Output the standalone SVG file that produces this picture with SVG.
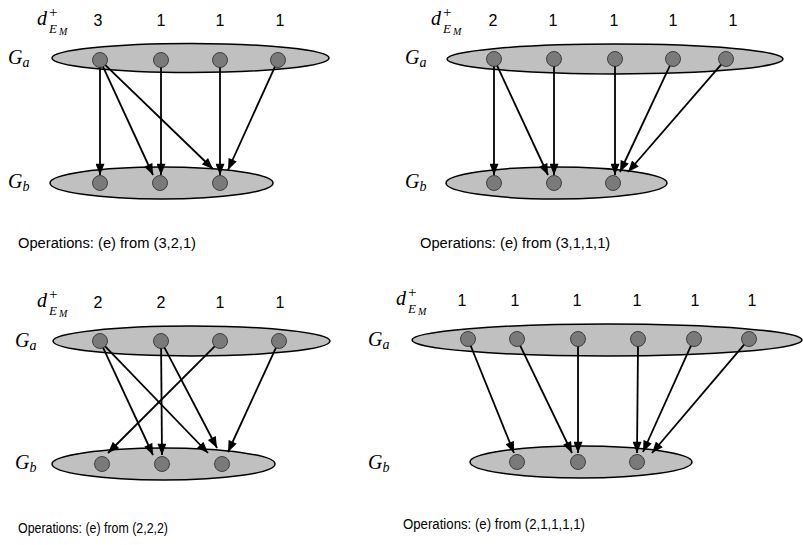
<svg xmlns="http://www.w3.org/2000/svg" width="803" height="545" viewBox="0 0 803 545">
<style>
.set{fill:#c0c0c0;stroke:#000;stroke-width:1.5}
.v{fill:#7a7a7a;stroke:#333;stroke-width:0.9}
.e{stroke:#000;stroke-width:1.8;fill:none;marker-end:url(#ah)}
.num{font-family:"Liberation Sans",Arial,sans-serif;font-size:16px;text-anchor:middle;fill:#000}
.m{font-family:"Liberation Serif","Times New Roman",serif;font-style:italic;fill:#000}
.p{font-family:"Liberation Serif","Times New Roman",serif;fill:#000}
.ops{font-family:"Liberation Sans",Arial,sans-serif;font-size:14.7px;fill:#000}
</style>
<defs>
<marker id="ah" viewBox="0 0 10 8" refX="10" refY="4" markerWidth="12" markerHeight="9" markerUnits="userSpaceOnUse" orient="auto">
<path d="M0,0 L10,4 L0,8 Z" fill="#000"/>
</marker>
</defs>

<!-- Panel 1 -->
<g id="p1-labels">
<text class="m" x="37" y="25" font-size="20">d</text>
<text class="p" x="49" y="17" font-size="15">+</text>
<text class="m" x="49" y="33" font-size="13">E</text>
<text class="m" x="59" y="35" font-size="10">M</text>
<text class="num" x="98" y="26">3</text>
<text class="num" x="161" y="26">1</text>
<text class="num" x="220" y="26">1</text>
<text class="num" x="280" y="26">1</text>
<text class="m" x="8" y="64" font-size="20">G<tspan font-size="14" dy="3">a</tspan></text>
<text class="m" x="8" y="188" font-size="20">G<tspan font-size="14" dy="3">b</tspan></text>
<text class="ops" x="18" y="248">Operations: (e) from (3,2,1)</text>
</g>
<g id="p1-Ga"><ellipse class="set" cx="190.5" cy="58" rx="138.5" ry="14.5"/></g>
<g id="p1-Gb"><ellipse class="set" cx="161.5" cy="183" rx="111.5" ry="16"/></g>
<g id="p1-a1"><circle class="v" cx="100" cy="60" r="7.5"/></g>
<g id="p1-a2"><circle class="v" cx="161" cy="60" r="7.5"/></g>
<g id="p1-a3"><circle class="v" cx="220" cy="60" r="7.5"/></g>
<g id="p1-a4"><circle class="v" cx="278" cy="60" r="7.5"/></g>
<g id="p1-b1"><circle class="v" cx="100" cy="183" r="7.5"/></g>
<g id="p1-b2"><circle class="v" cx="160" cy="183" r="7.5"/></g>
<g id="p1-b3"><circle class="v" cx="220" cy="183" r="7.5"/></g>

<!-- Panel 2 -->
<g id="p2-labels">
<text class="m" x="431" y="25" font-size="20">d</text>
<text class="p" x="443" y="17" font-size="15">+</text>
<text class="m" x="443" y="33" font-size="13">E</text>
<text class="m" x="453" y="35" font-size="10">M</text>
<text class="num" x="493" y="26">2</text>
<text class="num" x="553" y="26">1</text>
<text class="num" x="614" y="26">1</text>
<text class="num" x="673" y="26">1</text>
<text class="num" x="733" y="26">1</text>
<text class="m" x="405" y="64" font-size="20">G<tspan font-size="14" dy="3">a</tspan></text>
<text class="m" x="405" y="188" font-size="20">G<tspan font-size="14" dy="3">b</tspan></text>
<text class="ops" x="420" y="248">Operations: (e) from (3,1,1,1)</text>
</g>
<g id="p2-Ga"><ellipse class="set" cx="615" cy="59" rx="168" ry="15"/></g>
<g id="p2-Gb"><ellipse class="set" cx="556.5" cy="183" rx="110.5" ry="16"/></g>
<g id="p2-a1"><circle class="v" cx="494" cy="59" r="7.5"/></g>
<g id="p2-a2"><circle class="v" cx="554" cy="59" r="7.5"/></g>
<g id="p2-a3"><circle class="v" cx="615" cy="59" r="7.5"/></g>
<g id="p2-a4"><circle class="v" cx="673" cy="59" r="7.5"/></g>
<g id="p2-a5"><circle class="v" cx="726" cy="59" r="7.5"/></g>
<g id="p2-b1"><circle class="v" cx="494" cy="183" r="7.5"/></g>
<g id="p2-b2"><circle class="v" cx="554" cy="183" r="7.5"/></g>
<g id="p2-b3"><circle class="v" cx="613" cy="183" r="7.5"/></g>

<!-- Panel 3 -->
<g id="p3-labels">
<text class="m" x="37" y="307" font-size="20">d</text>
<text class="p" x="49" y="299" font-size="15">+</text>
<text class="m" x="49" y="315" font-size="13">E</text>
<text class="m" x="59" y="317" font-size="10">M</text>
<text class="num" x="98" y="308">2</text>
<text class="num" x="161" y="308">2</text>
<text class="num" x="220" y="308">1</text>
<text class="num" x="280" y="308">1</text>
<text class="m" x="15" y="347" font-size="20">G<tspan font-size="14" dy="3">a</tspan></text>
<text class="m" x="15" y="469" font-size="20">G<tspan font-size="14" dy="3">b</tspan></text>
<text class="ops" x="18" y="533" textLength="150" lengthAdjust="spacingAndGlyphs">Operations: (e) from (2,2,2)</text>
</g>
<g id="p3-Ga"><ellipse class="set" cx="191.5" cy="341" rx="138.5" ry="15"/></g>
<g id="p3-Gb"><ellipse class="set" cx="163.5" cy="464" rx="111.5" ry="16"/></g>
<g id="p3-a1"><circle class="v" cx="100" cy="341" r="7.5"/></g>
<g id="p3-a2"><circle class="v" cx="161" cy="341" r="7.5"/></g>
<g id="p3-a3"><circle class="v" cx="220" cy="341" r="7.5"/></g>
<g id="p3-a4"><circle class="v" cx="279" cy="341" r="7.5"/></g>
<g id="p3-b1"><circle class="v" cx="102" cy="464" r="7.5"/></g>
<g id="p3-b2"><circle class="v" cx="162" cy="464" r="7.5"/></g>
<g id="p3-b3"><circle class="v" cx="222" cy="464" r="7.5"/></g>

<!-- Panel 4 -->
<g id="p4-labels">
<text class="m" x="396" y="305" font-size="20">d</text>
<text class="p" x="408" y="297" font-size="15">+</text>
<text class="m" x="408" y="313" font-size="13">E</text>
<text class="m" x="418" y="315" font-size="10">M</text>
<text class="num" x="462" y="306">1</text>
<text class="num" x="515" y="306">1</text>
<text class="num" x="577" y="306">1</text>
<text class="num" x="637" y="306">1</text>
<text class="num" x="695" y="306">1</text>
<text class="num" x="752" y="306">1</text>
<text class="m" x="368" y="346" font-size="20">G<tspan font-size="14" dy="3">a</tspan></text>
<text class="m" x="368" y="469" font-size="20">G<tspan font-size="14" dy="3">b</tspan></text>
<text class="ops" x="403" y="529" textLength="182" lengthAdjust="spacingAndGlyphs">Operations: (e) from (2,1,1,1,1)</text>
</g>
<g id="p4-Ga"><ellipse class="set" cx="607" cy="340" rx="195" ry="16"/></g>
<g id="p4-Gb"><ellipse class="set" cx="581" cy="462" rx="111" ry="16"/></g>
<g id="p4-a1"><circle class="v" cx="468" cy="339" r="7.5"/></g>
<g id="p4-a2"><circle class="v" cx="517" cy="339" r="7.5"/></g>
<g id="p4-a3"><circle class="v" cx="578" cy="339" r="7.5"/></g>
<g id="p4-a4"><circle class="v" cx="638" cy="339" r="7.5"/></g>
<g id="p4-a5"><circle class="v" cx="694" cy="339" r="7.5"/></g>
<g id="p4-a6"><circle class="v" cx="749" cy="339" r="7.5"/></g>
<g id="p4-b1"><circle class="v" cx="517" cy="462" r="7.5"/></g>
<g id="p4-b2"><circle class="v" cx="578" cy="462" r="7.5"/></g>
<g id="p4-b3"><circle class="v" cx="637" cy="462" r="7.5"/></g>

<g id="connectors">
<line class="e" x1="100" y1="67.5" x2="100" y2="175"/>
<line class="e" x1="103.1" y1="66.8" x2="153" y2="175"/>
<line class="e" x1="105.4" y1="65.2" x2="213" y2="169"/>
<line class="e" x1="161" y1="67.5" x2="161" y2="175"/>
<line class="e" x1="220" y1="67.5" x2="220" y2="175"/>
<line class="e" x1="274.9" y1="66.8" x2="228" y2="170"/>

<line class="e" x1="494" y1="66.5" x2="494" y2="175"/>
<line class="e" x1="497.2" y1="65.8" x2="548" y2="175"/>
<line class="e" x1="554" y1="66.5" x2="554" y2="175"/>
<line class="e" x1="615" y1="66.5" x2="615" y2="175"/>
<line class="e" x1="669.8" y1="65.8" x2="620" y2="172"/>
<line class="e" x1="721.1" y1="64.7" x2="628" y2="172"/>

<line class="e" x1="214.7" y1="346.3" x2="108" y2="453"/>
<line class="e" x1="103.2" y1="347.8" x2="153" y2="455"/>
<line class="e" x1="105.2" y1="346.4" x2="208" y2="453"/>
<line class="e" x1="161.1" y1="348.5" x2="162" y2="455"/>
<line class="e" x1="164.5" y1="347.6" x2="217" y2="448"/>
<line class="e" x1="275.9" y1="347.8" x2="228" y2="452"/>

<line class="e" x1="470.8" y1="346" x2="514" y2="453"/>
<line class="e" x1="520.3" y1="345.8" x2="572" y2="453"/>
<line class="e" x1="578" y1="346.5" x2="578" y2="453"/>
<line class="e" x1="638" y1="346.5" x2="637" y2="453"/>
<line class="e" x1="690.9" y1="345.8" x2="643" y2="452"/>
<line class="e" x1="744.1" y1="344.7" x2="652" y2="453"/>
</g>
</svg>
